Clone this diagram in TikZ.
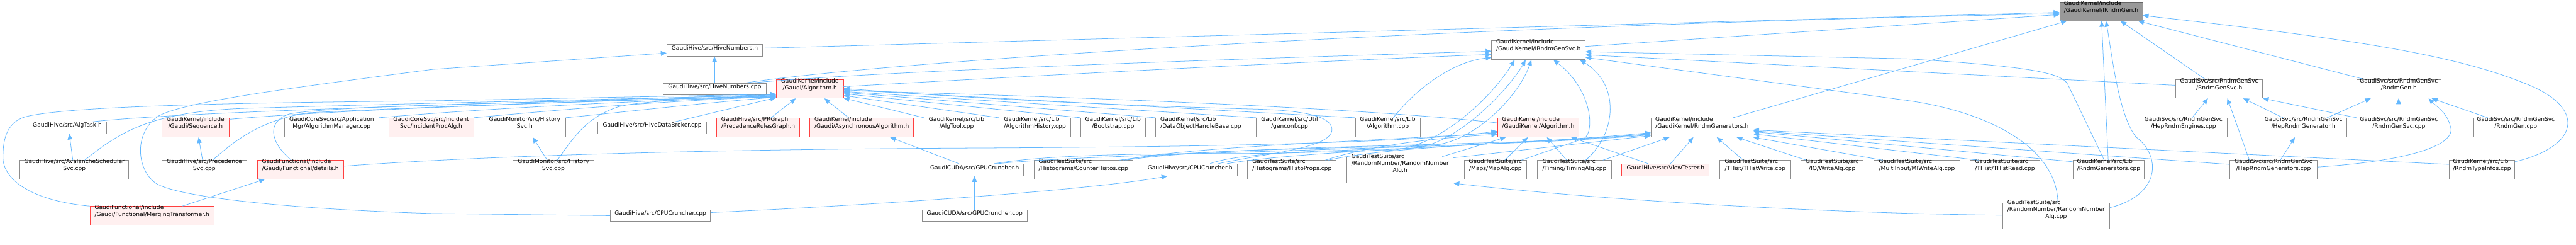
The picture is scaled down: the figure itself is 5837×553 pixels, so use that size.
\documentclass[tikz,border=0pt]{standalone}
\usepackage{fontspec}
\setmainfont{DejaVu Sans}
\usetikzlibrary{arrows.meta,fit}
\definecolor{edgec}{HTML}{63B8FF}
\definecolor{boxgray}{HTML}{8C8C8C}
\definecolor{redc}{HTML}{FF4040}
\definecolor{redfill}{HTML}{FFF0F0}
\definecolor{rootfill}{HTML}{999999}
\definecolor{rootdraw}{HTML}{666666}
\newcommand{\twol}[2]{\begin{tabular}{@{}l@{}}#1\\\multicolumn{1}{@{}c@{}}{#2}\end{tabular}}
\newcommand{\threel}[3]{\begin{tabular}{@{}l@{}}#1\\#2\\\multicolumn{1}{@{}c@{}}{#3}\end{tabular}}
\tikzset{
  nbox/.style={draw=boxgray, line width=0.6pt, fill=white, inner sep=0pt, font=\fontsize{6.5pt}{8pt}\selectfont},
  rbox/.style={nbox, draw=redc, fill=redfill},
  rootbox/.style={nbox, draw=rootdraw, fill=rootfill},
  e/.style={draw=edgec, line width=0.55pt, -{Triangle[length=6.5pt,width=5.5pt]}},
}
\begin{document}
\begin{tikzpicture}[x=0.5pt,y=-0.5pt]
\useasboundingbox (0,0) rectangle (5837,553);
\fill[white] (0,0) rectangle (5837,553);
% ---------------- nodes
\node[rootbox, fit={(4667,5) (4855,47)}] (root) {\twol{GaudiKernel/include}{/GaudiKernel/IRndmGen.h}};
\node[nbox, fit={(1511,100) (1728,127)}] (hnh) {GaudiHive/src/HiveNumbers.h};
\node[nbox, fit={(3380,92) (3592,135)}] (irgs) {\twol{GaudiKernel/include}{/GaudiKernel/IRndmGenSvc.h}};
\node[nbox, fit={(1503,188) (1736,214)}] (hnc) {GaudiHive/src/HiveNumbers.cpp};
\node[rbox, fit={(1759,180) (1911,222)}] (galg) {\twol{GaudiKernel/include}{/Gaudi/Algorithm.h}};
\node[nbox, fit={(4930,180) (5127,222)}] (rgsh) {\twol{GaudiSvc/src/RndmGenSvc}{/RndmGenSvc.h}};
\node[nbox, fit={(5340,180) (5531,222)}] (rgh) {\twol{GaudiSvc/src/RndmGenSvc}{/RndmGen.h}};
% row 3
\node[nbox, fit={(63,276) (242,302)}] (algtask) {GaudiHive/src/AlgTask.h};
\node[rbox, fit={(367,267) (519,310)}] (seq) {\twol{GaudiKernel/include}{/Gaudi/Sequence.h}};
\node[nbox, fit={(645,267) (858,310)}] (algmgr) {\twol{GaudiCoreSvc/src/Application}{Mgr/AlgorithmManager.cpp}};
\node[rbox, fit={(881,267) (1073,310)}] (incproc) {\twol{GaudiCoreSvc/src/Incident}{Svc/IncidentProcAlg.h}};
\node[nbox, fit={(1097,267) (1281,310)}] (histh) {\twol{GaudiMonitor/src/History}{Svc.h}};
\node[nbox, fit={(1355,276) (1601,302)}] (hdb) {GaudiHive/src/HiveDataBroker.cpp};
\node[rbox, fit={(1624,267) (1812,310)}] (prg) {\twol{GaudiHive/src/PRGraph}{/PrecedenceRulesGraph.h}};
\node[rbox, fit={(1835,267) (2070,310)}] (async) {\twol{GaudiKernel/include}{/Gaudi/AsynchronousAlgorithm.h}};
\node[nbox, fit={(2094,267) (2241,310)}] (algtool) {\twol{GaudiKernel/src/Lib}{/AlgTool.cpp}};
\node[nbox, fit={(2264,267) (2426,310)}] (alghist) {\twol{GaudiKernel/src/Lib}{/AlgorithmHistory.cpp}};
\node[nbox, fit={(2449,267) (2595,310)}] (boot) {\twol{GaudiKernel/src/Lib}{/Bootstrap.cpp}};
\node[nbox, fit={(2619,267) (2823,310)}] (dohb) {\twol{GaudiKernel/src/Lib}{/DataObjectHandleBase.cpp}};
\node[nbox, fit={(2847,267) (2997,310)}] (genconf) {\twol{GaudiKernel/src/Util}{/genconf.cpp}};
\node[nbox, fit={(3071,267) (3218,310)}] (algcpp) {\twol{GaudiKernel/src/Lib}{/Algorithm.cpp}};
\node[rbox, fit={(3393,267) (3578,310)}] (gkalg) {\twol{GaudiKernel/include}{/GaudiKernel/Algorithm.h}};
\node[nbox, fit={(3741,267) (3972,310)}] (rgenh) {\twol{GaudiKernel/include}{/GaudiKernel/RndmGenerators.h}};
\node[nbox, fit={(4849,267) (5046,310)}] (hepeng) {\twol{GaudiSvc/src/RndmGenSvc}{/HepRndmEngines.cpp}};
\node[nbox, fit={(5121,267) (5318,310)}] (hepgenh) {\twol{GaudiSvc/src/RndmGenSvc}{/HepRndmGenerator.h}};
\node[nbox, fit={(5340,267) (5531,310)}] (rgsc) {\twol{GaudiSvc/src/RndmGenSvc}{/RndmGenSvc.cpp}};
\node[nbox, fit={(5605,267) (5796,310)}] (rgc) {\twol{GaudiSvc/src/RndmGenSvc}{/RndmGen.cpp}};
% row 4
\node[nbox, fit={(45,363) (292,405)}] (avsched) {\twol{GaudiHive/src/AvalancheScheduler}{Svc.cpp}};
\node[nbox, fit={(367,363) (559,405)}] (precsvc) {\twol{GaudiHive/src/Precedence}{Svc.cpp}};
\node[rbox, fit={(583,363) (778,405)}] (details) {\twol{GaudiFunctional/include}{/Gaudi/Functional/details.h}};
\node[nbox, fit={(1162,363) (1346,405)}] (histc) {\twol{GaudiMonitor/src/History}{Svc.cpp}};
\node[nbox, fit={(2098,371) (2319,398)}] (gpuh) {GaudiCUDA/src/GPUCruncher.h};
\node[nbox, fit={(2343,363) (2567,405)}] (counter) {\twol{GaudiTestSuite/src}{/Histograms/CounterHistos.cpp}};
\node[nbox, fit={(2590,371) (2803,398)}] (cpuh) {GaudiHive/src/CPUCruncher.h};
\node[nbox, fit={(2827,363) (3028,405)}] (histoprops) {\twol{GaudiTestSuite/src}{/Histograms/HistoProps.cpp}};
\node[nbox, fit={(3052,355) (3293,414)}] (rnah) {\threel{GaudiTestSuite/src}{/RandomNumber/RandomNumber}{Alg.h}};
\node[nbox, fit={(3318,363) (3459,405)}] (mapalg) {\twol{GaudiTestSuite/src}{/Maps/MapAlg.cpp}};
\node[nbox, fit={(3484,363) (3651,405)}] (timing) {\twol{GaudiTestSuite/src}{/Timing/TimingAlg.cpp}};
\node[rbox, fit={(3675,371) (3873,398)}] (viewt) {GaudiHive/src/ViewTester.h};
\node[nbox, fit={(3897,363) (4057,405)}] (thw) {\twol{GaudiTestSuite/src}{/THist/THistWrite.cpp}};
\node[nbox, fit={(4081,363) (4222,405)}] (writealg) {\twol{GaudiTestSuite/src}{/IO/WriteAlg.cpp}};
\node[nbox, fit={(4246,363) (4441,405)}] (miwrite) {\twol{GaudiTestSuite/src}{/MultiInput/MIWriteAlg.cpp}};
\node[nbox, fit={(4464,363) (4622,405)}] (thr) {\twol{GaudiTestSuite/src}{/THist/THistRead.cpp}};
\node[nbox, fit={(4697,363) (4859,405)}] (librg) {\twol{GaudiKernel/src/Lib}{/RndmGenerators.cpp}};
\node[nbox, fit={(5053,363) (5250,405)}] (hepgenc) {\twol{GaudiSvc/src/RndmGenSvc}{/HepRndmGenerators.cpp}};
\node[nbox, fit={(5550,363) (5698,405)}] (rti) {\twol{GaudiKernel/src/Lib}{/RndmTypeInfos.cpp}};
% row 5
\node[rbox, fit={(204,467) (485,509)}] (merging) {\twol{GaudiFunctional/include}{/Gaudi/Functional/MergingTransformer.h}};
\node[nbox, fit={(1383,475) (1610,501)}] (cpuc) {GaudiHive/src/CPUCruncher.cpp};
\node[nbox, fit={(2090,475) (2327,501)}] (gpuc) {GaudiCUDA/src/GPUCruncher.cpp};
\node[nbox, fit={(4538,459) (4780,518)}] (rnac) {\threel{GaudiTestSuite/src}{/RandomNumber/RandomNumber}{Alg.cpp}};
% ---------------- edges into root
\draw[e] (irgs.east |- 0,105) -- (root.west |- 0,33);
\draw[e] (hnh.east |- 0,109) -- (root.west |- 0,28);
\draw[e] (1690,0 |- hnc.north) .. controls (2000,140) and (3200,60) .. (root.west |- 0,31);
\draw[e] (3927,0 |- rgenh.north) -- (4683,0 |- root.south);
\draw[e] (4777,0 |- librg.north) -- (4762,0 |- root.south);
\draw[e] (rnac.east |- 0,470) .. controls (4900,440) and (4895,350) .. (4840,310) .. controls (4800,260) and (4785,120) .. (4772,0 |- root.south);
\draw[e] (4997,0 |- rgsh.north) -- (4805,0 |- root.south);
\draw[e] (5357,0 |- rgh.north) -- (4845,0 |- root.south);
\draw[e] (rti.east |- 0,366) .. controls (5850,330) and (5860,240) .. (5717,187) .. controls (5550,120) and (5300,85) .. (root.east |- 0,35);
% ---------------- edges into IRndmGenSvc.h
\draw[e] (1705,0 |- hnc.north) .. controls (2000,160) and (2800,133) .. (irgs.west |- 0,116);
\draw[e] (galg.east |- 0,196) .. controls (2400,168) and (2900,142) .. (irgs.west |- 0,123);
\draw[e] (3157,0 |- algcpp.north) .. controls (3210,200) and (3290,140) .. (irgs.west |- 0,130);
\draw[e] (4768,0 |- librg.north) -- (4685,190) .. controls (4670,165) and (4600,150) .. (4320,133) -- (irgs.east |- 0,117);
\draw[e] (rgsh.west |- 0,193) -- (irgs.east |- 0,124);
\draw[e] (4663,0 |- rnac.north) .. controls (4660,330) and (4500,252) .. (4320,227) -- (irgs.east |- 0,130);
\draw[e] (3447,0 |- mapalg.north) -- (3590,313) .. controls (3615,295) and (3605,200) .. (3520,0 |- irgs.south);
\draw[e] (3593,0 |- timing.north) .. controls (3665,300) and (3670,190) .. (3580,0 |- irgs.south);
\draw[e] (2253,0 |- gpuh.north) .. controls (2400,345) and (2700,348) .. (2880,347) -- (3150,340) .. controls (3260,335) and (3380,220) .. (3432,0 |- irgs.south);
\draw[e] (2742,0 |- cpuh.north) .. controls (2820,340) and (3100,340) .. (3200,335) .. controls (3300,330) and (3420,200) .. (3457,0 |- irgs.south);
\draw[e] (2537,0 |- counter.north) .. controls (2700,335) and (3150,335) .. (3250,328) .. controls (3340,320) and (3440,220) .. (3470,0 |- irgs.south);
% ---------------- edges into GaudiKernel/Algorithm.h
\draw[e] (3410,0 |- mapalg.north) -- (3462,0 |- gkalg.south);
\draw[e] (3550,0 |- timing.north) -- (3505,0 |- gkalg.south);
\draw[e] (3735,0 |- viewt.north) -- (3560,0 |- gkalg.south);
\draw[e] (2545,0 |- counter.north) .. controls (2700,330) and (3150,318) .. (gkalg.west |- 0,300);
\draw[e] (3003,0 |- histoprops.north) .. controls (3100,330) and (3250,312) .. (gkalg.west |- 0,304);
\draw[e] (3268,0 |- rnah.north) -- (3412,0 |- gkalg.south);
\draw[e] (details.east |- 0,376) .. controls (1100,352) and (1600,338) .. (2200,335) .. controls (2800,332) and (3200,322) .. (gkalg.west |- 0,297);
% ---------------- edges into RndmGenerators.h
\draw[e] (2260,0 |- gpuh.north) .. controls (2500,345) and (3400,335) .. (rgenh.west |- 0,305);
\draw[e] (2550,0 |- counter.north) .. controls (2800,325) and (3480,332) .. (rgenh.west |- 0,302);
\draw[e] (2780,0 |- cpuh.north) .. controls (2950,340) and (3450,328) .. (rgenh.west |- 0,300);
\draw[e] (3010,0 |- histoprops.north) .. controls (3150,330) and (3500,322) .. (rgenh.west |- 0,303);
\draw[e] (rnah.east |- 0,357) -- (rgenh.west |- 0,307);
\draw[e] (3632,0 |- timing.north) -- (3783,0 |- rgenh.south);
\draw[e] (3785,0 |- viewt.north) -- (3837,0 |- rgenh.south);
\draw[e] (3950,0 |- thw.north) -- (3890,0 |- rgenh.south);
\draw[e] (4093,0 |- writealg.north) -- (3935,0 |- rgenh.south);
\draw[e] (4266,0 |- miwrite.north) -- (rgenh.south east);
\draw[e] (4483,0 |- thr.north) -- (rgenh.east |- 0,303);
\draw[e] (librg.west |- 0,366) -- (rgenh.east |- 0,298);
\draw[e] (hepgenc.west |- 0,372) -- (rgenh.east |- 0,296);
\draw[e] (rti.west |- 0,372) -- (rgenh.east |- 0,294);
% ---------------- RndmGenSvc group
\draw[e] (5097,0 |- hepgenc.north) -- (5047,0 |- rgsh.south);
\draw[e] (5167,0 |- hepgenc.north) -- (5200,0 |- hepgenh.south);
\draw[e] (hepgenc.east |- 0,378) .. controls (5450,365) and (5570,330) .. (5552,285) .. controls (5545,255) and (5520,240) .. (5503,0 |- rgh.south);
\draw[e] (4967,0 |- hepeng.north) -- (5003,0 |- rgsh.south);
\draw[e] (5173,0 |- hepgenh.north) -- (5083,0 |- rgsh.south);
\draw[e] (5273,0 |- hepgenh.north) -- (5372,0 |- rgh.south);
\draw[e] (rgsc.north west) -- (rgsh.south east);
\draw[e] (5435,0 |- rgsc.north) -- (5435,0 |- rgh.south);
\draw[e] (5637,0 |- rgc.north) -- (5510,0 |- rgh.south);
\draw[e] (rnac.west |- 0,487) .. controls (4100,482) and (3600,450) .. (rnah.south east);
% ---------------- left part
\draw[e] (1619,0 |- hnc.north) -- (1619,0 |- hnh.south);
\draw[e] (cpuc.west |- 0,488) -- (980,483) .. controls (700,475) and (420,450) .. (357,417) .. controls (310,390) and (300,300) .. (360,262) .. controls (420,230) and (650,200) .. (980,157) -- (hnh.west |- 0,120);
\draw[e] (cpuc.east |- 0,481) .. controls (2100,458) and (2500,425) .. (2645,0 |- cpuh.south);
\draw[e] (2208,0 |- gpuc.north) -- (2208,0 |- gpuh.south);
\draw[e] (2173,0 |- gpuh.north) -- (2017,0 |- async.south);
\draw[e] (1747,0 |- prg.north) -- (1803,0 |- galg.south);
\draw[e] (1923,0 |- async.north) -- (1868,0 |- galg.south);
\draw[e] (1530,0 |- hdb.north) -- (galg.west |- 0,221);
\draw[e] (210,0 |- algtask.north) .. controls (400,255) and (900,240) .. (galg.west |- 0,214);
\draw[e] (165,0 |- avsched.north) -- (157,0 |- algtask.south);
\draw[e] (192,0 |- avsched.north) .. controls (270,300) and (340,252) .. (560,245) .. controls (1000,232) and (1500,222) .. (galg.west |- 0,215);
\draw[e] (seq.east |- 0,270) .. controls (800,245) and (1400,228) .. (galg.west |- 0,216);
\draw[e] (459,0 |- precsvc.north) -- (450,0 |- seq.south);
\draw[e] (482,0 |- precsvc.north) .. controls (540,310) and (600,270) .. (700,255) .. controls (1100,235) and (1500,225) .. (galg.west |- 0,217);
\draw[e] (660,0 |- details.north) .. controls (610,320) and (605,275) .. (655,258) .. controls (750,238) and (1300,230) .. (galg.west |- 0,218);
\draw[e] (413,0 |- merging.north) -- (600,0 |- details.south);
\draw[e] (merging.north west) .. controls (80,455) and (0,410) .. (7,347) .. controls (8,300) and (25,275) .. (55,265) .. controls (150,238) and (600,232) .. (980,228) -- (galg.west |- 0,213);
\draw[e] (algmgr.north east) .. controls (1100,245) and (1500,225) .. (galg.west |- 0,219);
\draw[e] (incproc.north east) .. controls (1250,250) and (1500,228) .. (galg.west |- 0,219);
\draw[e] (histh.north east) .. controls (1400,255) and (1600,232) .. (galg.west |- 0,220);
\draw[e] (1240,0 |- histc.north) -- (1207,0 |- histh.south);
\draw[e] (1263,0 |- histc.north) .. controls (1300,310) and (1330,265) .. (1400,242) .. controls (1450,228) and (1600,222) .. (galg.west |- 0,220);
% ---------------- right side into Gaudi/Algorithm.h
\draw[e] (gkalg.west |- 0,278) .. controls (3050,240) and (2300,215) .. (galg.east |- 0,205);
\draw[e] (algtool.north west) -- (galg.east |- 0,222);
\draw[e] (alghist.north west) -- (galg.east |- 0,216);
\draw[e] (boot.north west) -- (galg.east |- 0,212);
\draw[e] (dohb.north west) -- (galg.east |- 0,209);
\draw[e] (genconf.north west) -- (galg.east |- 0,207);
\draw[e] (algcpp.north west) -- (galg.east |- 0,203);
\draw[e] (2760,0 |- cpuh.north) .. controls (2880,345) and (3020,335) .. (3018,292) .. controls (3016,262) and (2950,250) .. (2850,247) .. controls (2400,235) and (2100,215) .. (galg.east |- 0,200);
\end{tikzpicture}
\end{document}
